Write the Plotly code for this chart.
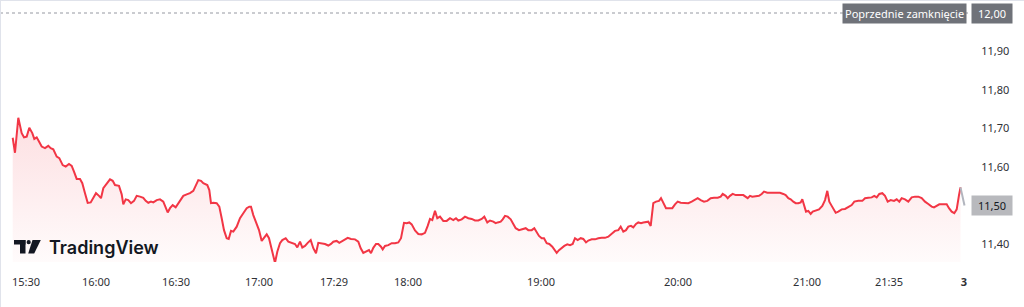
import plotly.graph_objects as go

# ---------------- data ----------------
bar_a = [12.7, 15, 18.3, 21.7, 24, 26.7, 29.3, 32.3, 34.3, 36.7,
         39, 41.7, 45, 48.3, 50.7, 53.3, 56.7, 59.3, 62.7, 65.7,
         69, 71.7, 74, 76.7, 80, 82.3, 85, 87.7, 90.7, 93.3,
         96, 99, 101, 103.3, 106.7, 110, 112.7, 115, 119, 121.7,
         123.3, 125.7, 128.3, 131, 134, 136.7, 140, 143.3, 145.7, 148.3,
         151, 153.3, 156.7, 160, 163.3, 165.7, 167.7, 170, 172.7, 175.7,
         178.3, 181, 183.3, 186.7, 190, 193.3, 196, 198.3, 201, 203.3,
         207.3, 209.3, 211, 213.3, 216.7, 219.3, 221.7, 224, 226.7, 228.7,
         231, 233.3, 236.7, 240, 243.3, 246.7, 249.3]
price_a = [11.676, 11.637, 11.728, 11.688, 11.677, 11.679, 11.702, 11.688, 11.673, 11.677,
           11.666, 11.653, 11.649, 11.655, 11.649, 11.646, 11.627, 11.623, 11.605, 11.601,
           11.608, 11.603, 11.588, 11.569, 11.569, 11.558, 11.532, 11.507, 11.508, 11.519,
           11.532, 11.525, 11.519, 11.545, 11.558, 11.568, 11.564, 11.553, 11.551, 11.529,
           11.503, 11.516, 11.514, 11.506, 11.512, 11.525, 11.523, 11.520, 11.512, 11.507,
           11.510, 11.508, 11.514, 11.516, 11.510, 11.497, 11.482, 11.493, 11.501, 11.495,
           11.506, 11.519, 11.525, 11.529, 11.532, 11.538, 11.553, 11.566, 11.564, 11.558,
           11.553, 11.540, 11.506, 11.507, 11.506, 11.497, 11.467, 11.436, 11.415, 11.413,
           11.434, 11.432, 11.445, 11.467, 11.480, 11.493, 11.497]

bar_b = [251, 253.3, 256.7, 259, 261.7, 264, 266.7, 269, 271.7, 275,
         277.3, 280, 282.3, 285.7, 288.3, 291.7, 295, 297.3, 300, 302.3,
         305, 307.7, 310.7, 313.3, 316, 318.3, 321.7, 325, 328.3, 331,
         333.3, 336.7, 339.3, 342.3, 345, 347.7, 351, 355, 358.3, 360.7,
         363.3, 366, 369, 371, 373.3, 376, 378.3, 381, 382.7, 385,
         388.3, 391.7, 395, 398.3, 401, 404, 406.7, 409.3, 411.7, 415,
         418.3, 421.7, 425, 427.7, 430, 432.3, 435, 437.3, 440, 443.3,
         446.7, 450, 453.3, 456, 458.3, 461.7, 465, 468.3, 471.7, 475,
         478.3, 481.7, 484.3, 487.3, 490, 493.3, 495.7]
price_b = [11.497, 11.475, 11.454, 11.436, 11.408, 11.415, 11.425, 11.415, 11.389, 11.351,
           11.380, 11.402, 11.410, 11.415, 11.406, 11.402, 11.400, 11.391, 11.406, 11.391,
           11.395, 11.403, 11.410, 11.389, 11.376, 11.403, 11.402, 11.400, 11.396, 11.400,
           11.406, 11.408, 11.403, 11.408, 11.413, 11.416, 11.413, 11.412, 11.406, 11.389,
           11.377, 11.380, 11.384, 11.376, 11.390, 11.400, 11.400, 11.393, 11.386, 11.395,
           11.397, 11.402, 11.402, 11.404, 11.415, 11.455, 11.454, 11.456, 11.451, 11.435,
           11.426, 11.425, 11.429, 11.447, 11.465, 11.462, 11.486, 11.467, 11.471, 11.460,
           11.460, 11.467, 11.462, 11.467, 11.461, 11.464, 11.471, 11.467, 11.465, 11.461,
           11.461, 11.465, 11.471, 11.456, 11.461, 11.458, 11.454]

bar_c = [497.7, 500.7, 502.7, 505, 507.7, 510.7, 513.3, 515.7, 519, 522.3,
         525.7, 528.3, 531.7, 534.3, 536.7, 539, 541.7, 544, 546.7, 549.3,
         552.3, 554.3, 556.7, 559, 561.7, 564.3, 567.3, 570, 572.7, 575,
         577.7, 580.7, 583.3, 586, 588.3, 591.7, 595, 598.3, 601.7, 605,
         608.3, 611.7, 615, 618.3, 620.7, 623.3, 626, 628.3, 631, 633.3,
         636, 638.3, 641, 643.3, 646, 648.3, 650.7, 653.3, 656, 659,
         661, 663.3, 666, 669, 672.3, 675, 677.7, 680.7, 684, 688.3,
         691.7, 695, 697.7, 700.7, 704, 707.3, 710.7, 714, 717.7, 720.7,
         722.7, 725.7, 727.7, 730, 732.7, 735.7, 739.3, 743.3]
price_c = [11.456, 11.458, 11.464, 11.473, 11.471, 11.464, 11.452, 11.441, 11.436, 11.438,
           11.441, 11.436, 11.436, 11.441, 11.432, 11.421, 11.415, 11.415, 11.402, 11.400,
           11.393, 11.386, 11.377, 11.384, 11.391, 11.395, 11.399, 11.397, 11.400, 11.415,
           11.410, 11.415, 11.413, 11.404, 11.409, 11.412, 11.412, 11.415, 11.416, 11.416,
           11.419, 11.426, 11.434, 11.436, 11.445, 11.432, 11.436, 11.445, 11.447, 11.443,
           11.452, 11.456, 11.454, 11.456, 11.458, 11.458, 11.447, 11.506, 11.510, 11.512,
           11.519, 11.506, 11.493, 11.493, 11.493, 11.503, 11.510, 11.507, 11.506, 11.506,
           11.510, 11.516, 11.519, 11.514, 11.510, 11.512, 11.519, 11.520, 11.520, 11.523,
           11.530, 11.525, 11.519, 11.525, 11.530, 11.527, 11.527, 11.527]

bar_d = [747.7, 750, 752.3, 755.7, 759, 761.7, 764, 767.3, 771.7, 776.7,
         780, 783.3, 785.7, 788.3, 790.7, 793.3, 795.7, 798.3, 800.7, 802.3,
         804.3, 806, 808.3, 810.7, 812.7, 815.7, 819, 822.3, 825, 827.3,
         829.3, 831.7, 833.3, 835.7, 838.3, 841.7, 845, 848.3, 851.7, 854.3,
         858.3, 862.3, 865, 868.3, 871.7, 874.3, 876.7, 879.3, 882.3, 885,
         887.7, 890.7, 894, 896.7, 899.3, 901.7, 905, 908.3, 911.7, 915,
         918.3, 921.7, 925, 928.3, 931.7, 934, 936.7, 939.3, 943.3, 946.7,
         949, 951.7, 954.3, 956.7, 959, 960.5]
price_d = [11.519, 11.525, 11.523, 11.525, 11.525, 11.530, 11.536, 11.533, 11.533, 11.533,
           11.533, 11.530, 11.527, 11.519, 11.516, 11.510, 11.506, 11.506, 11.508, 11.516,
           11.497, 11.484, 11.486, 11.478, 11.484, 11.486, 11.490, 11.499, 11.514, 11.538,
           11.510, 11.499, 11.493, 11.481, 11.484, 11.490, 11.491, 11.497, 11.501, 11.510,
           11.512, 11.512, 11.519, 11.520, 11.521, 11.525, 11.521, 11.530, 11.532, 11.525,
           11.510, 11.514, 11.512, 11.516, 11.510, 11.519, 11.516, 11.510, 11.521, 11.523,
           11.523, 11.519, 11.510, 11.504, 11.497, 11.495, 11.499, 11.503, 11.503, 11.503,
           11.493, 11.484, 11.480, 11.490, 11.527, 11.547]

# after-session tail (grey)
bar_tail = [960.5, 964.5]
price_tail = [11.547, 11.50]

prev_close = 12.00
last_price = 11.50

tick_pos = [26, 96, 176, 259, 334, 408, 541, 678, 807, 889, 964]
tick_text = ["15:30", "16:00", "16:30", "17:00", "17:29", "18:00",
             "19:00", "20:00", "21:00", "21:35", "<b>3</b>"]
y_ticks = [11.40, 11.60, 11.70, 11.80, 11.90]

bar = bar_a + bar_b + bar_c + bar_d
price = price_a + price_b + price_c + price_d

# ---------------- layout constants ----------------
W, H = 1024, 307
PLOT_R = 968          # right edge of pane (px)
PLOT_B = 262          # bottom of pane (px)
Y_MIN, Y_MAX = 11.3532, 12.0338
RED = "#F23645"
TEXT = "#2f3136"

fig = go.Figure()

fig.add_trace(go.Scatter(
    x=bar, y=price, mode="lines",
    line=dict(color=RED, width=2),
    fill="tozeroy",
    fillgradient=dict(
        type="vertical",
        start=Y_MIN, stop=max(price),
        colorscale=[[0, "rgba(242,54,69,0.02)"], [1, "rgba(242,54,69,0.16)"]],
    ),
    hoverinfo="skip", showlegend=False,
))
fig.add_trace(go.Scatter(
    x=bar_tail, y=price_tail, mode="lines",
    line=dict(color="#b2b5be", width=2),
    hoverinfo="skip", showlegend=False,
))


def px(x):
    return x / PLOT_R


def py(y):
    return (PLOT_B - y) / PLOT_B


shapes = [
    # previous close dotted line
    dict(type="line", xref="paper", yref="y", x0=0, x1=1, y0=prev_close, y1=prev_close,
         line=dict(color="#9598a1", width=1, dash="dot"), layer="below"),
    # top border
    dict(type="line", xref="paper", yref="paper", x0=0, x1=W / PLOT_R, y0=py(0.5), y1=py(0.5),
         line=dict(color="#e0e3eb", width=1)),
    # left border
    dict(type="line", xref="paper", yref="paper", x0=px(0.5), x1=px(0.5), y0=py(0), y1=py(307),
         line=dict(color="#e0e3eb", width=1)),
    # TradingView logo
    dict(type="rect", xref="paper", yref="paper", x0=px(14), x1=px(25.5), y0=py(244.5), y1=py(240),
         fillcolor="#131722", line=dict(width=0)),
    dict(type="rect", xref="paper", yref="paper", x0=px(20), x1=px(25.5), y0=py(253.5), y1=py(240),
         fillcolor="#131722", line=dict(width=0)),
    dict(type="circle", xref="paper", yref="paper", x0=px(26.6), x1=px(30.8), y0=py(244.3), y1=py(240.1),
         fillcolor="#131722", line=dict(width=0)),
    dict(type="path", xref="paper", yref="paper",
         path=f"M {px(32.5)},{py(240)} L {px(40.8)},{py(240)} L {px(34.2)},{py(253.5)} L {px(28.2)},{py(253.5)} Z",
         fillcolor="#131722", line=dict(width=0)),
]

annotations = [
    dict(text="Poprzednie zamknięcie", xref="paper", yref="y", x=1, y=prev_close,
         xanchor="right", yanchor="middle", showarrow=False, xshift=-1,
         bgcolor="#6f7279", borderpad=2, font=dict(color="white", size=11, family="Noto Sans")),
    dict(text="12,00", xref="paper", yref="y", x=1, y=prev_close,
         xanchor="left", yanchor="middle", showarrow=False, xshift=3, width=36,
         bgcolor="#6f7279", borderpad=2, font=dict(color="white", size=11, family="Noto Sans")),
    dict(text="11,50", xref="paper", yref="y", x=1, y=last_price,
         xanchor="left", yanchor="middle", showarrow=False, xshift=3, width=36,
         bgcolor="#b8b9bd", borderpad=2, font=dict(color="#131722", size=11, family="Noto Sans")),
    dict(text="TradingView", xref="paper", yref="paper", x=px(47), y=py(247.5),
         xanchor="left", yanchor="middle", showarrow=False,
         font=dict(color="#131722", size=18, family="Inter", weight=600)),
]

fig.update_layout(
    width=W, height=H,
    margin=dict(l=0, r=W - PLOT_R, t=0, b=H - PLOT_B),
    paper_bgcolor="white", plot_bgcolor="white",
    separators=", ",
    shapes=shapes, annotations=annotations,
    xaxis=dict(range=[0, PLOT_R], showgrid=False, zeroline=False, showline=False,
               tickmode="array", tickvals=tick_pos, ticktext=tick_text,
               ticks="outside", ticklen=10, tickcolor="rgba(0,0,0,0)",
               tickfont=dict(size=11, color=TEXT, family="Noto Sans"), fixedrange=True),
    yaxis=dict(range=[Y_MIN, Y_MAX], side="right", showgrid=False, zeroline=False, showline=False,
               tickmode="array", tickvals=y_ticks, tickformat=".2f",
               ticks="outside", ticklen=10, tickcolor="rgba(0,0,0,0)",
               tickfont=dict(size=11, color=TEXT, family="Noto Sans"), fixedrange=True),
    hovermode=False,
)

fig.write_html("out.html", config={"displayModeBar": False})
